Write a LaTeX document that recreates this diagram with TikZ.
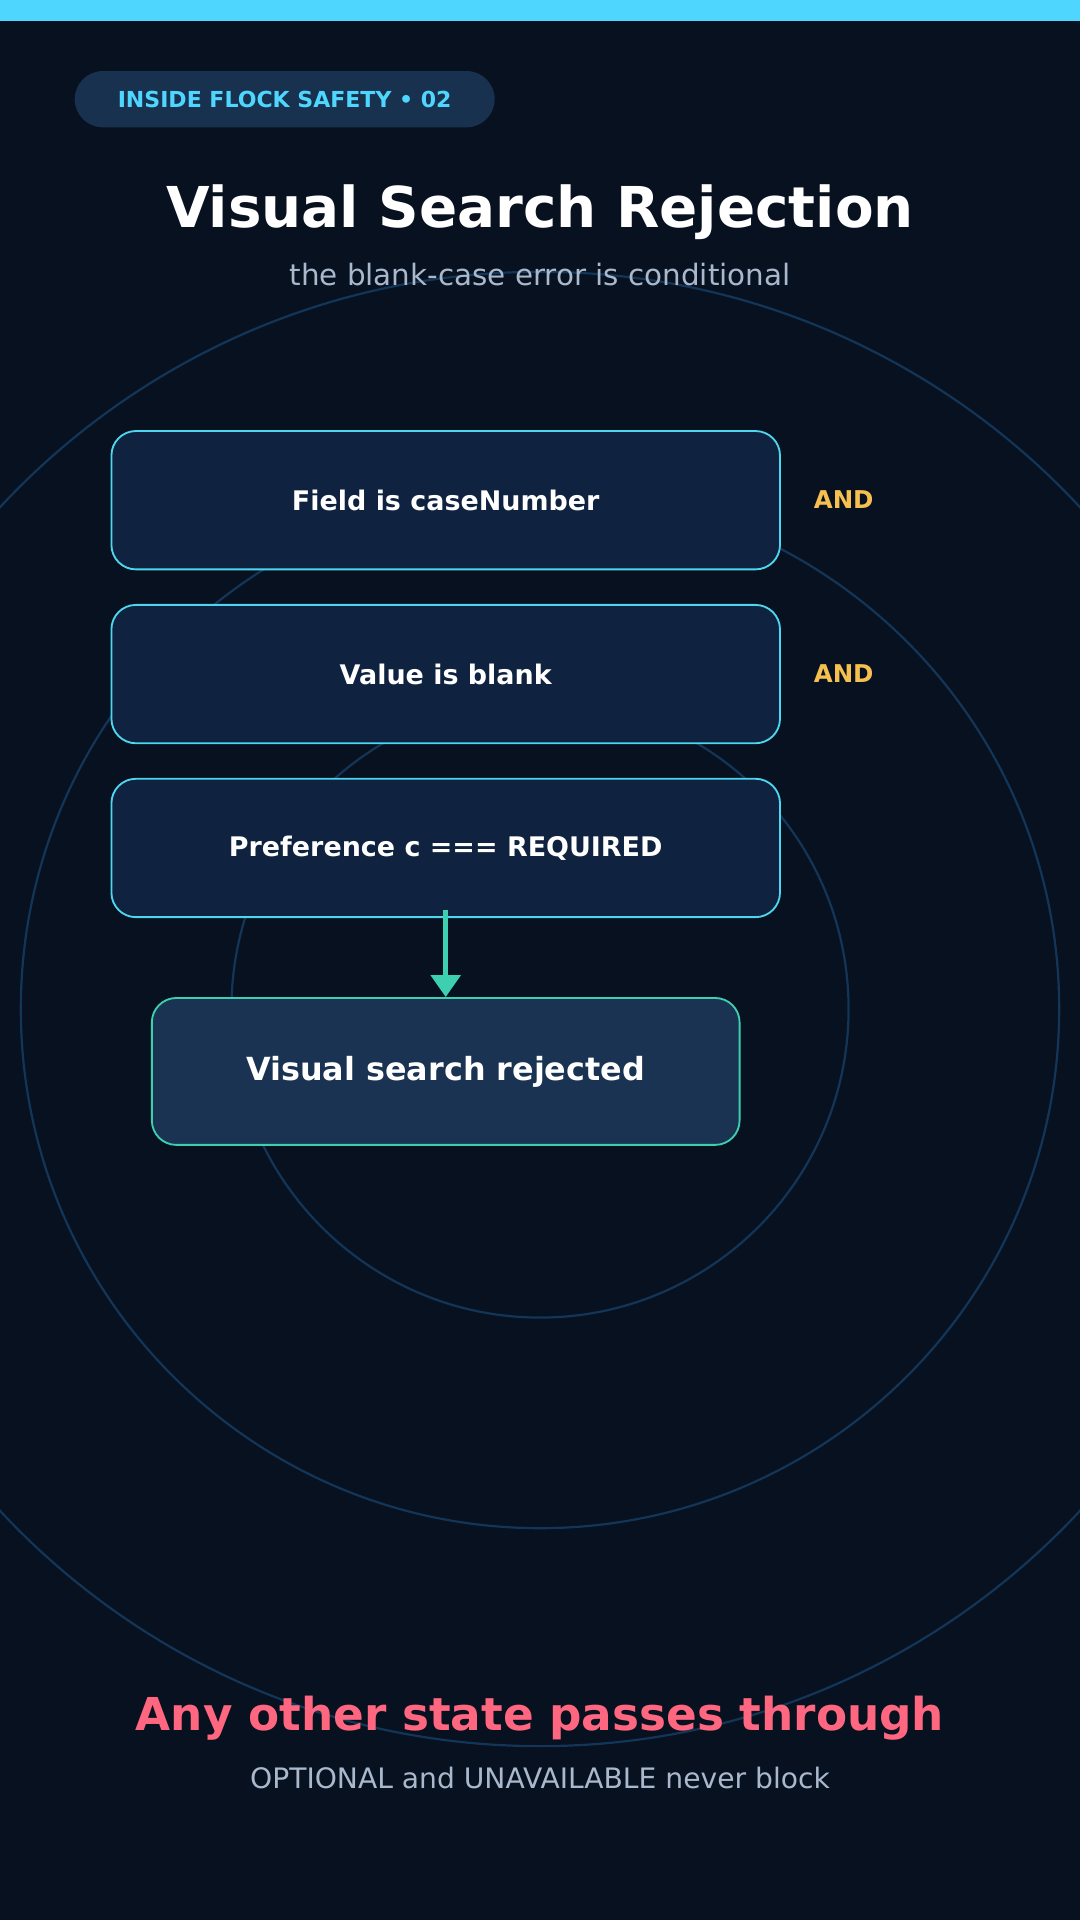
\documentclass[tikz,border=0pt]{standalone}
\usepackage{fontspec}
\setmainfont{DejaVu Sans}
\usetikzlibrary{arrows.meta}
\definecolor{bg}{HTML}{08111F}
\definecolor{cyanc}{HTML}{4FD6FF}
\definecolor{pill}{HTML}{17314F}
\definecolor{ring}{HTML}{123558}
\definecolor{boxf}{HTML}{0F2340}
\definecolor{boxs}{HTML}{4FD6EF}
\definecolor{teal}{HTML}{3ECFB0}
\definecolor{resf}{HTML}{1A3352}
\definecolor{gold}{HTML}{F5C04F}
\definecolor{pink}{HTML}{FF6680}
\definecolor{sub}{HTML}{A9B8CC}
\tikzset{
 cond/.style={draw=boxs, line width=1.5pt, fill=boxf, rounded corners=20pt, minimum width=546pt, minimum height=113pt, text=white, font=\bfseries\fontsize{22}{26}\selectfont},
 andl/.style={text=gold, font=\bfseries\fontsize{20}{24}\selectfont},
 ringc/.style={draw=ring, line width=1.8pt},
}
\begin{document}
\begin{tikzpicture}[x=1pt,y=-1pt]
\useasboundingbox (0,0) rectangle (882,1568);
\fill[bg] (0,0) rectangle (882,1568);
\begin{scope}
\clip (0,0) rectangle (882,1568);
\draw[ringc] (441,824) circle (252);
\draw[ringc] (441,824) circle (424);
\draw[ringc] (441,824) circle (602);
\end{scope}
\fill[cyanc] (0,0) rectangle (882,17);
\node[fill=pill, rounded corners=23pt, minimum width=343pt, minimum height=46pt, text=cyanc, font=\bfseries\fontsize{18}{22}\selectfont] (pill) at (232.5,81) {INSIDE FLOCK SAFETY • 02};
\node[text=white, font=\bfseries\fontsize{46}{54}\selectfont] (title) at (441,173) {Visual Search Rejection};
\node[text=sub, font=\fontsize{24}{28}\selectfont] (subt) at (441,224) {the blank-case error is conditional};
\node[cond] (c1) at (364,408.5) {Field is caseNumber};
\node[cond] (c2) at (364,550.5) {Value is blank};
\node[cond] (c3) at (364,692.5) {Preference c === REQUIRED};
\node[andl] (a1) at (689,408) {AND};
\node[andl] (a2) at (689,550) {AND};
\node[draw=teal, line width=1.5pt, fill=resf, rounded corners=20pt, minimum width=480pt, minimum height=120pt, text=white, font=\bfseries\fontsize{26}{30}\selectfont] (res) at (364,875) {Visual search rejected};
\draw[teal, line width=4pt, -{Triangle[length=18pt,width=24pt]}] ([yshift=7pt]c3.south) -- (res.north);
\node[text=pink, font=\bfseries\fontsize{37}{44}\selectfont] (any) at (441,1403) {Any other state passes through};
\node[text=sub, font=\fontsize{23}{27}\selectfont] (opt) at (441,1452) {OPTIONAL and UNAVAILABLE never block};
\end{tikzpicture}
\end{document}
